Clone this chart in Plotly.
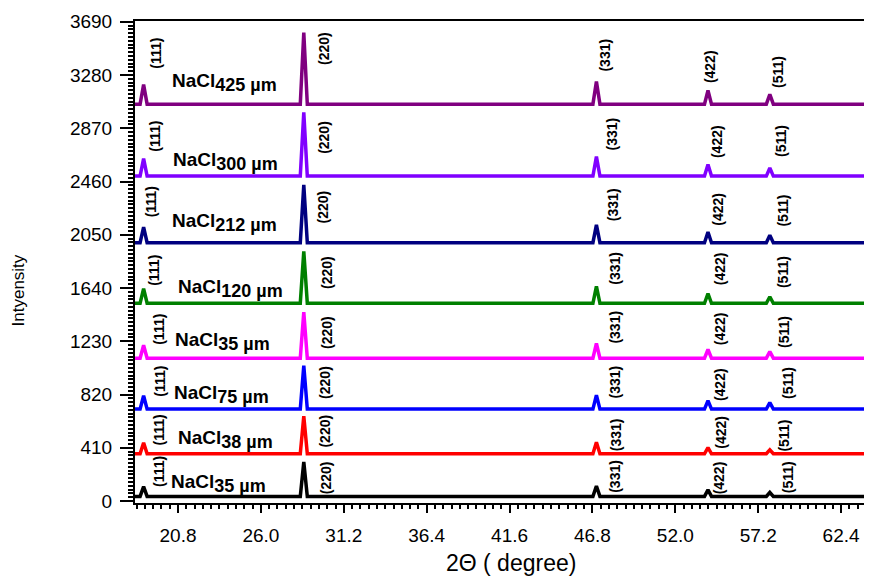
import plotly.graph_objects as go

# ---------------- data ----------------
peak_labels = ["(111)", "(220)", "(331)", "(422)", "(511)"]
peak_pos = [18.64, 28.69, 47.05, 54.05, 57.93]

sample_names = ["425 µm", "300 µm", "212 µm", "120 µm", "35 µm", "75 µm", "38 µm", "35 µm"]
baselines = [3056, 2502, 1989, 1523, 1100, 708, 364, 36]

h_425 = [150, 550, 175, 105, 75]
h_300 = [135, 490, 150, 90, 62]
h_212 = [120, 445, 138, 82, 57]
h_120 = [113, 400, 130, 75, 50]
h_35b = [100, 355, 113, 67, 50]
h_75 = [103, 335, 108, 65, 50]
h_38 = [85, 290, 88, 48, 30]
h_35a = [75, 265, 80, 50, 30]
heights = [h_425, h_300, h_212, h_120, h_35b, h_75, h_38, h_35a]

x_ticks = [20.8, 26.0, 31.2, 36.4, 41.6, 46.8, 52.0, 57.2, 62.4]
y_ticks = [0, 410, 820, 1230, 1640, 2050, 2460, 2870, 3280, 3690]

# ---------------- styling ----------------
colors = ["rgb(128,0,128)", "rgb(128,0,255)", "rgb(0,0,128)", "rgb(0,128,0)",
          "rgb(255,0,255)", "rgb(0,0,255)", "rgb(255,0,0)", "rgb(0,0,0)"]
X_MIN, X_MAX = 18.1, 64.34
HALF_W = 0.22

# label placement (layout only)
name_x = [20.27, 20.37, 20.31, 20.69, 20.47, 20.44, 20.69, 20.22]
name_dy = [170, 110, 152, 110, 128, 110, 108, 98]
lab_dx = [[13, 20, 9, 2, 8], [11, 20, 16, 9, 11], [7, 19, 16, 10, 13],
          [11, 23, 19, 12, 13], [16, 23, 19, 12, 14], [16, 21, 19, 12, 18],
          [15, 21, 19, 13, 14], [16, 23, 19, 11, 19]]
lab_dy = [[51, 56, 49, 38, 32], [40, 39, 42, 35, 35], [41, 36, 38, 34, 32],
          [33, 31, 35, 35, 31], [29, 26, 31, 30, 26], [28, 27, 27, 25, 26],
          [24, 23, 19, 22, 18], [25, 19, 20, 19, 19]]

FONT = "Liberation Sans, Arial, sans-serif"

fig = go.Figure()
annotations = []
for i, (b, hs) in enumerate(zip(baselines, heights)):
    xs = [X_MIN]
    ys = [b]
    for p, h in zip(peak_pos, hs):
        xs += [p - HALF_W, p, p + HALF_W]
        ys += [b, b + h, b]
    xs.append(X_MAX)
    ys.append(b)
    fig.add_trace(go.Scatter(x=xs, y=ys, mode="lines",
                             line=dict(color=colors[i], width=3.5),
                             showlegend=False, hoverinfo="skip"))
    for j, p in enumerate(peak_pos):
        annotations.append(dict(x=p, y=b, xref="x", yref="y", text="<b>%s</b>" % peak_labels[j],
                                textangle=-90, showarrow=False, xanchor="center", yanchor="middle",
                                xshift=lab_dx[i][j], yshift=lab_dy[i][j],
                                font=dict(family=FONT, size=14, color="black")))
    annotations.append(dict(x=name_x[i], y=b + name_dy[i], xref="x", yref="y",
                            text="<b>NaCl<sub><span style='font-size:18px'>%s</span></sub></b>" % sample_names[i],
                            showarrow=False, xanchor="left", yanchor="middle",
                            font=dict(family=FONT, size=19, color="black")))

annotations.append(dict(x=-0.158, y=0.44, xref="paper", yref="paper", text="Intyensity",
                        textangle=-90, showarrow=False, xanchor="center", yanchor="middle",
                        font=dict(family=FONT, size=17, color="black")))
annotations.append(dict(x=0.51, y=-0.125, xref="paper", yref="paper", text="2Θ ( degree)",
                        showarrow=False, xanchor="center", yanchor="middle",
                        font=dict(family=FONT, size=23, color="black")))

# the page body adds an 8 px offset; compensate with figure size and margins
fig.update_layout(
    width=864, height=568,
    margin=dict(l=127, r=0, t=13, b=73),
    paper_bgcolor="white", plot_bgcolor="white",
    annotations=annotations,
    font=dict(family=FONT, color="black"),
)
fig.update_xaxes(range=[X_MIN, X_MAX], tickvals=x_ticks, ticktext=["%.1f" % v for v in x_ticks],
                 showgrid=False, zeroline=False, showline=True, linecolor="black", linewidth=2,
                 mirror=True, ticks="outside", ticklen=8, tickwidth=2, tickcolor="black",
                 ticklabelstandoff=6, tickfont=dict(family=FONT, size=19, color="black"),
                 minor=dict(dtick=0.52, tick0=20.8, ticks="outside", ticklen=4, tickwidth=1.5,
                            tickcolor="black", showgrid=False))
fig.update_yaxes(range=[-15, 3696], tickvals=y_ticks, ticktext=[str(v) for v in y_ticks],
                 showgrid=False, zeroline=False, showline=True, linecolor="black", linewidth=2,
                 ticks="outside", ticklen=13, tickwidth=2, tickcolor="black",
                 ticklabelstandoff=4, tickfont=dict(family=FONT, size=19, color="black"),
                 minor=dict(dtick=410 / 14, tick0=0, ticks="outside", ticklen=5, tickwidth=1.5,
                            tickcolor="black", showgrid=False))

fig.write_html("out.html")
